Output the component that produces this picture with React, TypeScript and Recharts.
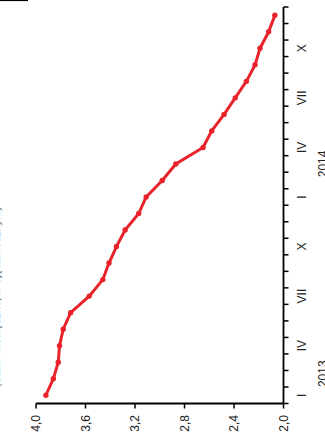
import { LineChart, Line, XAxis, YAxis } from "recharts";

// Month labels, Jan 2013 .. Dec 2014
const months = [
  "I", "II", "III", "IV", "V", "VI", "VII", "VIII", "IX", "X", "XI", "XII",
  "I", "II", "III", "IV", "V", "VI", "VII", "VIII", "IX", "X", "XI", "XII",
];

// Values
const values = [
  3.92, 3.86, 3.82, 3.81, 3.78, 3.72, 3.57, 3.46, 3.41, 3.35, 3.28, 3.17,
  3.11, 2.98, 2.87, 2.65, 2.58, 2.48, 2.39, 2.30, 2.23, 2.19, 2.12, 2.07,
];

const valueTicks = [4, 3.6, 3.2, 2.8, 2.4, 2.0];
const shownMonths = ["I", "IV", "VII", "X"];

// year captions and where they sit on the month axis
const years = ["2013", "2014"];
const yearPos = [2.3, 15];

const title = "(dane miesięczne, w ujęciu rocznym)";

const RED = "#E8232B";
const FONT = "'Liberation Sans', Arial, sans-serif";

const data = months.map((m, i) => ({ month: i + 1, label: m, value: values[i] }));

// tick marks between months, labels in the middle of a month
const boundaryTicks = [0.5, ...months.map((_, i) => i + 1.5)];
const labelTicks = data.filter((d) => shownMonths.includes(d.label)).map((d) => d.month);
const monthTicks = [...boundaryTicks, ...labelTicks, ...yearPos].sort((a, b) => a - b);

const fmt = (v: number) => v.toFixed(1).replace(".", ",");

const ValueTick = ({ x, y, payload }: any) => (
  <text
    transform={`translate(${x},${y}) rotate(-90)`}
    textAnchor="end"
    dy="0.35em"
    fontSize={12}
    fontFamily={FONT}
    fill="#222"
  >
    {fmt(payload.value)}
  </text>
);

const MonthTick = ({ x, y, payload }: any) => {
  const v = payload.value;
  if (v % 1 === 0.5) {
    return <line x1={x} x2={x + 5} y1={y} y2={y} stroke="#000" strokeWidth={1.5} />;
  }
  const yi = yearPos.indexOf(v);
  if (yi >= 0) {
    return (
      <text transform={`translate(${x + 43.5},${y}) rotate(-90)`} textAnchor="middle" fontSize={12} fontFamily={FONT} fill="#222">
        {years[yi]}
      </text>
    );
  }
  return (
    <text transform={`translate(${x + 22.5},${y}) rotate(-90)`} textAnchor="middle" fontSize={12} fontFamily={FONT} fill="#222">
      {months[v - 1]}
    </text>
  );
};

export default function App() {
  return (
    <div style={{ position: "absolute", left: 0, top: 0, width: 325, height: 443, overflow: "hidden", background: "#fff" }}>
      <LineChart
        layout="vertical"
        width={325}
        height={443}
        data={data}
        margin={{ top: 7, right: 0, bottom: 0, left: 36 }}
      >
        <XAxis
          type="number"
          dataKey="value"
          domain={[2, 4]}
          reversed
          ticks={valueTicks}
          interval={0}
          height={39.5}
          tickSize={5}
          tickMargin={6.5}
          axisLine={{ stroke: "#000", strokeWidth: 1.8 }}
          tickLine={{ stroke: "#000", strokeWidth: 1.5 }}
          tick={<ValueTick />}
        />
        <YAxis
          type="number"
          dataKey="month"
          orientation="right"
          domain={[0.5, 24.5]}
          reversed
          ticks={monthTicks}
          interval={0}
          width={41.5}
          tickSize={0}
          tickMargin={0}
          tickLine={false}
          axisLine={{ stroke: "#000", strokeWidth: 1.8 }}
          tick={<MonthTick />}
        />
        <Line
          dataKey="value"
          stroke={RED}
          strokeWidth={3}
          dot={{ r: 2.7, fill: RED, stroke: RED, strokeWidth: 0 }}
          isAnimationActive={false}
        />
      </LineChart>

      {/* cut-off caption and rule on the left edge */}
      <svg width={325} height={443} style={{ position: "absolute", left: 0, top: 0, pointerEvents: "none" }}>
        <line x1={0} x2={28} y1={0.5} y2={0.5} stroke="#000" strokeWidth={1.2} />
        <text transform="translate(-0.3,297) rotate(-90)" textAnchor="middle" fontSize={11} fontFamily={FONT} fill="#555">
          {title}
        </text>
      </svg>
    </div>
  );
}
